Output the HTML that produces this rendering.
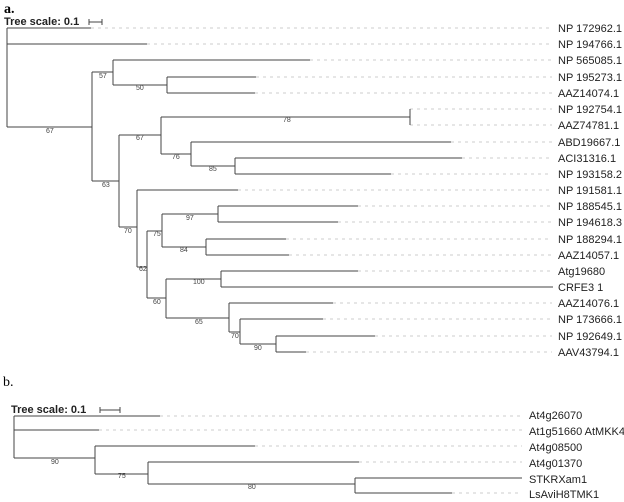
<!DOCTYPE html>
<html><head><meta charset="utf-8"><style>
html,body{margin:0;padding:0;background:#fff}
svg{display:block}
.l{font:11px "Liberation Sans",sans-serif;fill:#222}
.s{font:7px "Liberation Sans",sans-serif;fill:#444}
.t{font:bold 11px "Liberation Sans",sans-serif;fill:#222}
.b{stroke:#444;stroke-width:1;fill:none}
.d{stroke:#ccc;stroke-width:1;stroke-dasharray:3,4;fill:none}
</style></head><body>
<svg width="624" height="502" viewBox="0 0 624 502" xmlns="http://www.w3.org/2000/svg">
<text x="4" y="13" style="font:bold 14px 'Liberation Serif',serif">a.</text>
<text class="t" x="4" y="25">Tree scale: 0.1</text>
<path class="b" d="M89 22H102M89 19V25M102 19V25"/>
<path class="d" d="M91 28H552M147 44H552M310 60H552M256 77H552M255 93H552M410 109H552M410 125H552M451 142H552M462 158H552M391 174H552M238 190H552M358 206H552M338 222H552M286 239H552M289 255H552M358 271H552M333 303H552M323 319H552M375 336H552M306 352H552"/>
<path class="b" d="M7 28V127M7 28H91M7 44H147M7 127H92
M92 72V181M92 72H113M113 60V85M113 60H310M113 85H167M167 77V93M167 77H256M167 93H255
M92 181H119M119 135V227M119 135H161M161 117V154M161 117H410M410 109V125M161 154H191M191 142V166M191 142H451M191 166H235M235 158V174M235 158H462M235 174H391
M119 227H137M137 190V267M137 190H238M137 267H147M147 231V298M147 231H162M162 214V247M162 214H218M218 206V222M218 206H358M218 222H338M162 247H206M206 239V255M206 239H286M206 255H289
M147 298H166M166 279V318M166 279H221M221 271V287M221 271H358M221 287H553M166 318H229M229 303V332M229 303H333M229 332H240M240 319V344M240 319H323M240 344H276M276 336V352M276 336H375M276 352H306"/>
<g class="s">
<text x="46" y="133">67</text><text x="99" y="78">57</text><text x="136" y="90">50</text>
<text x="283" y="122">78</text><text x="136" y="140">67</text><text x="172" y="159">76</text>
<text x="209" y="171">85</text><text x="102" y="187">63</text><text x="124" y="233">70</text>
<text x="186" y="220">97</text><text x="153" y="236">75</text><text x="180" y="252">84</text>
<text x="139" y="271">62</text><text x="193" y="284">100</text><text x="153" y="304">60</text>
<text x="195" y="324">65</text><text x="231" y="338">70</text><text x="254" y="350">90</text>
</g>
<g class="l">
<text x="558" y="32">NP 172962.1</text><text x="558" y="48">NP 194766.1</text>
<text x="558" y="64">NP 565085.1</text><text x="558" y="81">NP 195273.1</text>
<text x="558" y="97">AAZ14074.1</text><text x="558" y="113">NP 192754.1</text>
<text x="558" y="129">AAZ74781.1</text><text x="558" y="146">ABD19667.1</text>
<text x="558" y="162">ACI31316.1</text><text x="558" y="178">NP 193158.2</text>
<text x="558" y="194">NP 191581.1</text><text x="558" y="210">NP 188545.1</text>
<text x="558" y="226">NP 194618.3</text><text x="558" y="243">NP 188294.1</text>
<text x="558" y="259">AAZ14057.1</text><text x="558" y="275">Atg19680</text>
<text x="558" y="291">CRFE3 1</text><text x="558" y="307">AAZ14076.1</text>
<text x="558" y="323">NP 173666.1</text><text x="558" y="340">NP 192649.1</text>
<text x="558" y="356">AAV43794.1</text>
</g>
<text x="3" y="386" style="font:14px 'Liberation Serif',serif">b.</text>
<text class="t" x="11" y="413">Tree scale: 0.1</text>
<path class="b" d="M100 410H120M100 407V413M120 407V413"/>
<path class="d" d="M160 416H522M99 430H522M255 446H522M359 462H522M452 493H522"/>
<path class="b" d="M14 416V458M14 416H160M14 430H99M14 458H95M95 446V474M95 446H255M95 474H148M148 462V484M148 462H359M148 484H355M355 478V493M355 478H522M355 493H452"/>
<g class="s"><text x="51" y="464">90</text><text x="118" y="478">75</text><text x="248" y="489">80</text></g>
<g class="l">
<text x="529" y="419">At4g26070</text><text x="529" y="435">At1g51660 AtMKK4</text>
<text x="529" y="451">At4g08500</text><text x="529" y="467">At4g01370</text>
<text x="529" y="483">STKRXam1</text><text x="529" y="498">LsAviH8TMK1</text>
</g>
</svg>
</body></html>
